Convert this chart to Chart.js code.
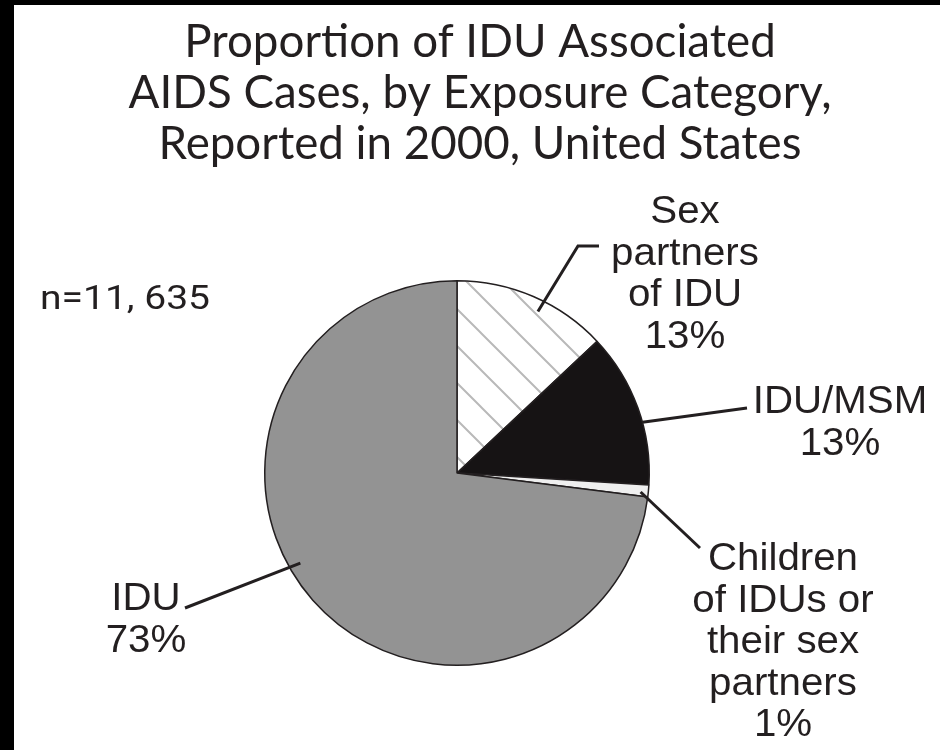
<!DOCTYPE html>
<html>
<head>
<meta charset="utf-8">
<script src="https://cdn.jsdelivr.net/npm/chart.js@4.4.0/dist/chart.umd.min.js"></script>
<style>
  html, body { margin: 0; padding: 0; background: #fff; }
</style>
</head>
<body>
<canvas id="chart" width="940" height="750"></canvas>
<script>
// data
const categories = ["Sex partners of IDU", "IDU/MSM", "Children of IDUs or their sex partners", "IDU"];
const shares = [13, 13, 1, 73];
const labelNames = [
  ["Sex", "partners", "of IDU"],
  ["IDU/MSM"],
  ["Children", "of IDUs or", "their sex", "partners"],
  ["IDU"],
];
const titleLines = [
  "Proportion of IDU Associated",
  "AIDS Cases, by Exposure Category,",
  "Reported in 2000, United States",
];
const sampleNote = "n=11, 635";

// where each label sits (center x, first baseline) and its leader line
// leader starts on the pie at [angle clockwise from top, radius fraction]
const labelPlaces = [
  { x: 685, y: 223, from: [26.6, 0.94], path: [[578, 246], [599, 246]] },
  { x: 840, y: 413, from: [74.7, 1.0], path: [[747, 408]] },
  { x: 783, y: 570, from: [95.9, 0.96], path: [[700, 548]] },
  { x: 146, y: 610, from: [240.1, 0.94], path: [[185, 608]] },
];

const ink = "#231f20";
const canvas = document.getElementById("chart");
const ctx = canvas.getContext("2d");

function makeHatch() {
  const s = 37;
  const c = document.createElement("canvas");
  c.width = s;
  c.height = s;
  const g = c.getContext("2d");
  g.fillStyle = "#ffffff";
  g.fillRect(0, 0, s, s);
  g.strokeStyle = "#b9b9b9";
  g.lineWidth = 2;
  g.beginPath();
  g.moveTo(-2, -2);
  g.lineTo(s + 2, s + 2);
  g.moveTo(-2, s - 2);
  g.lineTo(2, s + 2);
  g.moveTo(s - 2, -2);
  g.lineTo(s + 2, 2);
  g.stroke();
  return ctx.createPattern(c, "repeat");
}

function squeezedText(g, text, x, y, sx) {
  g.save();
  g.translate(x, y);
  g.scale(sx, 1);
  g.fillText(text, 0, 0);
  g.restore();
}

const paperPlugin = {
  id: "paper",
  beforeDraw(chart) {
    const g = chart.ctx;
    g.save();
    g.fillStyle = "#ffffff";
    g.fillRect(0, 0, chart.width, chart.height);
    g.fillStyle = "#000000";
    g.fillRect(0, 0, 14, chart.height); // scan frame
    g.fillRect(0, 0, chart.width, 5);
    g.restore();
  },
};

const labelsPlugin = {
  id: "labels",
  afterDraw(chart) {
    const g = chart.ctx;
    const arc = chart.getDatasetMeta(0).data[0];
    const cx = arc.x;
    const cy = arc.y;
    const R = arc.outerRadius;
    g.save();
    g.fillStyle = ink;
    g.textAlign = "center";
    g.textBaseline = "alphabetic";

    // title
    g.font = '46px "Lato"';
    const tsx = 703 / g.measureText(titleLines[1]).width;
    titleLines.forEach((t, i) => squeezedText(g, t, 480, 57 + i * 51, tsx));

    // leader lines
    g.strokeStyle = ink;
    g.lineWidth = 3;
    g.lineJoin = "miter";
    labelPlaces.forEach((p) => {
      const a = (p.from[0] * Math.PI) / 180;
      const r = R * p.from[1];
      g.beginPath();
      g.moveTo(cx + r * Math.sin(a), cy - r * Math.cos(a));
      p.path.forEach((pt) => g.lineTo(pt[0], pt[1]));
      g.stroke();
    });

    // slice labels
    g.font = '39px "Liberation Sans"';
    const lsx = 150 / g.measureText("Children").width;
    labelPlaces.forEach((p, i) => {
      const lines = labelNames[i].concat([shares[i] + "%"]);
      lines.forEach((t, j) => squeezedText(g, t, p.x, p.y + j * 41.5, lsx));
    });

    // sample size
    g.textAlign = "left";
    g.font = '33px "Roboto"';
    const nsx = 170 / g.measureText(sampleNote).width;
    squeezedText(g, sampleNote, 40, 309, nsx);
    g.restore();
  },
};

new Chart(ctx, {
  type: "pie",
  data: {
    labels: categories,
    datasets: [
      {
        data: shares,
        backgroundColor: [makeHatch(), "#161314", "#efefef", "#939393"],
        borderColor: ink,
        borderWidth: 1.5,
      },
    ],
  },
  options: {
    responsive: false,
    animation: false,
    layout: {
      padding: { left: 264, right: 290, top: 280, bottom: 84 },
    },
    plugins: {
      legend: { display: false },
      tooltip: { enabled: false },
      title: { display: false },
    },
  },
  plugins: [paperPlugin, labelsPlugin],
});
</script>
</body>
</html>
